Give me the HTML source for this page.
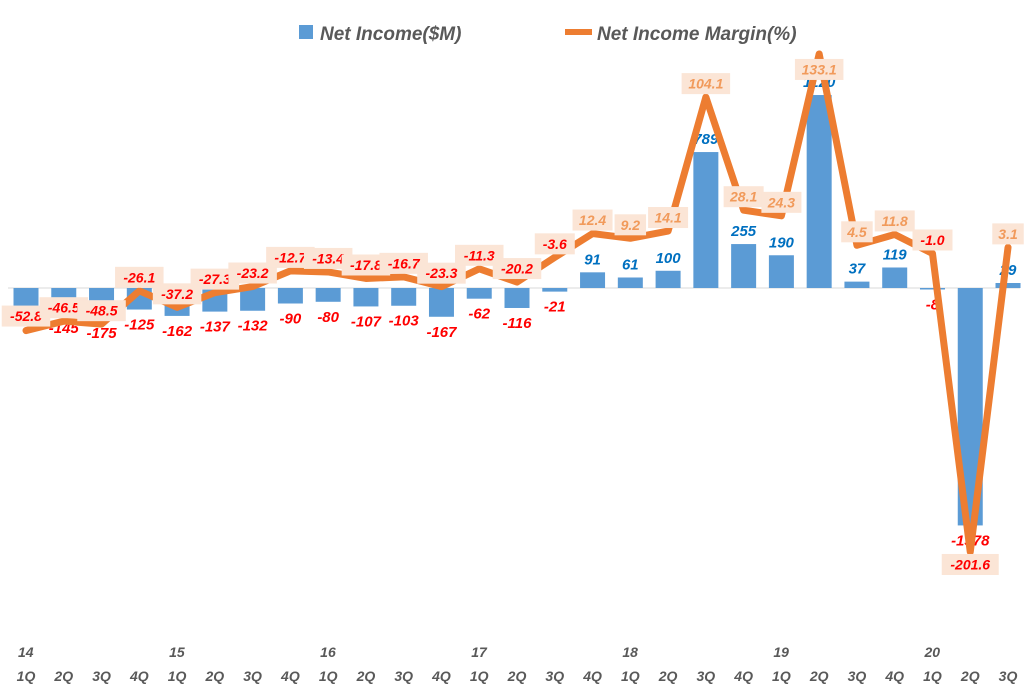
<!DOCTYPE html>
<html><head><meta charset="utf-8"><style>
body{margin:0;background:#fff;width:1024px;height:692px;overflow:hidden}
text{font-family:"Liberation Sans",sans-serif;font-weight:bold;font-style:italic}
</style></head><body>
<svg id="s" width="1024" height="692" xmlns="http://www.w3.org/2000/svg"></svg>
<script>
const inc=[-128,-145,-175,-125,-162,-137,-132,-90,-80,-107,-103,-167,-62,-116,-21,91,61,100,789,255,190,1120,37,119,-8,-1378,29];
const mar=[-52.8,-46.5,-48.5,-26.1,-37.2,-27.3,-23.2,-12.7,-13.4,-17.8,-16.7,-23.3,-11.3,-20.2,-3.6,12.4,9.2,14.1,104.1,28.1,24.3,133.1,4.5,11.8,-1.0,-201.6,3.1];
const yrs={0:"14",4:"15",8:"16",12:"17",16:"18",20:"19",24:"20"};
const qs=["1Q","2Q","3Q","4Q"];
const X=i=>26+i*37.77, Z=288, by=v=>Z-v*0.1723, my=v=>252-v*1.488;
let h='';
h+=`<line x1="8" x2="1020" y1="${Z}" y2="${Z}" stroke="#d9d9d9" stroke-width="1"/>`;
inc.forEach((v,i)=>{const y=by(v);h+=`<rect x="${X(i)-12.5}" y="${Math.min(y,Z)}" width="25" height="${Math.max(Math.abs(Z-y),1.5)}" fill="#5b9bd5"/>`;});
inc.forEach((v,i)=>{const y=by(v);if(i==0)return;
 if(v<0)h+=`<text x="${X(i)}" y="${Math.max(y,Z)+20}" font-size="15" fill="#ff0000" text-anchor="middle">${v}</text>`;
 else h+=`<text x="${X(i)}" y="${y-8}" font-size="15" fill="#0070c0" text-anchor="middle">${v}</text>`;});
h+=`<polyline fill="none" stroke="#ed7d31" stroke-width="7" stroke-linejoin="round" stroke-linecap="round" points="${mar.map((v,i)=>X(i)+','+my(v)).join(' ')}"/>`;
mar.forEach((v,i)=>{let y=my(v)-14;if(i==21)y=my(v)+15;if(i==25)y=my(v)+12;if(i==0)y=my(v)-15;
 const t=v.toFixed(1),w=t.length*8.5+6;
 h+=`<rect x="${X(i)-w/2}" y="${y-10}" width="${w}" height="21" fill="#fbe5d6"/>`;
 h+=`<text x="${X(i)}" y="${y+5.5}" font-size="14" fill="${v<0?'#ff0000':'#f19a5b'}" text-anchor="middle">${t}</text>`;});
inc.forEach((v,i)=>{if(yrs[i])h+=`<text x="${X(i)-8}" y="657" font-size="14" fill="#595959">${yrs[i]}</text>`;
 h+=`<text x="${X(i)}" y="681" font-size="14" fill="#595959" text-anchor="middle">${qs[i%4]}</text>`;});
h+=`<rect x="299" y="25" width="14" height="14" fill="#5b9bd5"/><text x="320" y="40" font-size="19" fill="#595959">Net Income($M)</text>`;
h+=`<line x1="565" x2="592" y1="32" y2="32" stroke="#ed7d31" stroke-width="6"/><text x="597" y="40" font-size="19" fill="#595959">Net Income Margin(%)</text>`;
document.getElementById('s').innerHTML=h;
</script>
</body></html>
